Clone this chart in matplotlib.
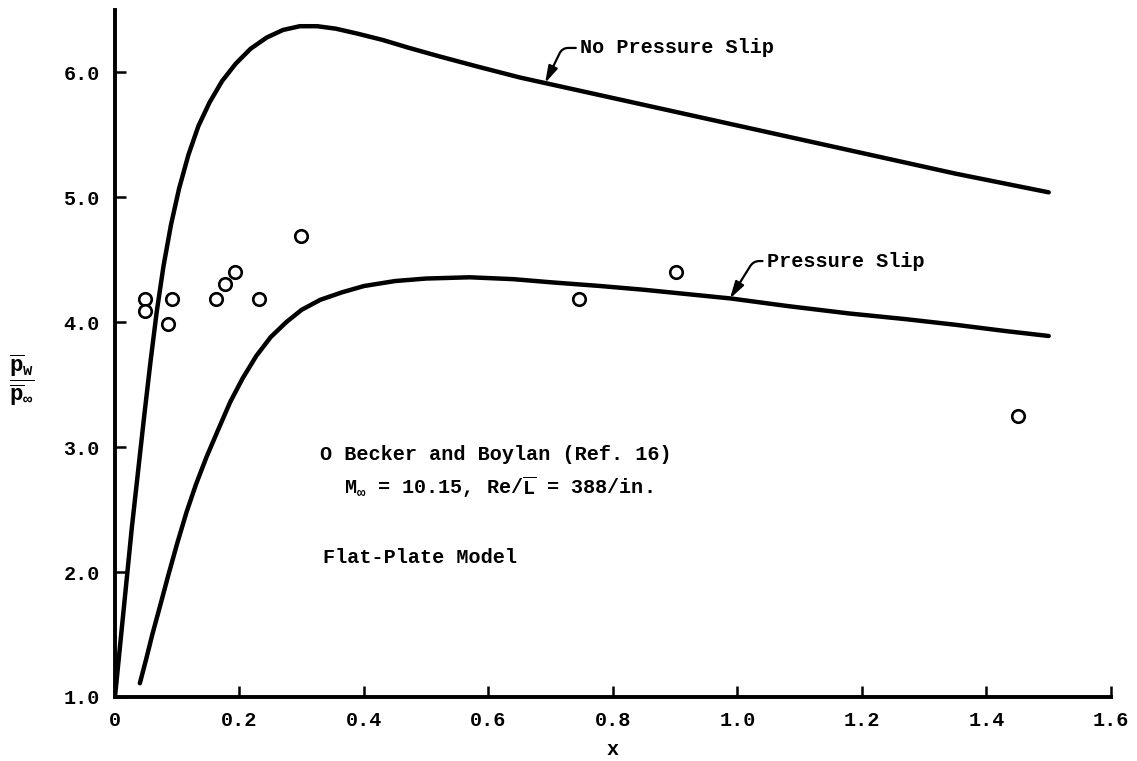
import matplotlib
matplotlib.use("Agg")
import matplotlib.pyplot as plt

plt.rcParams['font.family'] = ['Liberation Mono', 'DejaVu Sans Mono']
plt.rcParams['font.weight'] = 'bold'
plt.rcParams['mathtext.fontset'] = 'custom'
plt.rcParams['mathtext.rm'] = 'Liberation Mono:bold'
plt.rcParams['mathtext.it'] = 'Liberation Mono:bold'
plt.rcParams['mathtext.bf'] = 'Liberation Mono:bold'

# wall pressure ratio, no pressure slip at the wall
x_noslip = [0.000, 0.004, 0.010, 0.018, 0.027, 0.037, 0.047, 0.057, 0.067, 0.078,
            0.090, 0.103, 0.118, 0.134, 0.152, 0.172, 0.194, 0.218, 0.244, 0.270,
            0.297, 0.325, 0.355, 0.390, 0.430, 0.470, 0.52, 0.58, 0.65, 0.75,
            0.85, 0.95, 1.05, 1.15, 1.25, 1.35, 1.45, 1.50]
p_noslip = [1.00, 1.20, 1.50, 1.90, 2.35, 2.80, 3.25, 3.68, 4.08, 4.45,
            4.78, 5.07, 5.34, 5.57, 5.76, 5.93, 6.07, 6.19, 6.28, 6.34,
            6.37, 6.37, 6.35, 6.31, 6.26, 6.20, 6.13, 6.05, 5.96, 5.85,
            5.74, 5.63, 5.52, 5.41, 5.30, 5.19, 5.09, 5.04]

# wall pressure ratio with pressure slip
x_slip = [0.040, 0.050, 0.060, 0.072, 0.086, 0.100, 0.115, 0.130, 0.147, 0.165,
          0.185, 0.205, 0.227, 0.250, 0.275, 0.300, 0.330, 0.365, 0.40, 0.45,
          0.50, 0.57, 0.64, 0.70, 0.78, 0.85, 0.92, 0.99, 1.08, 1.18,
          1.27, 1.35, 1.43, 1.50]
p_slip = [1.11, 1.30, 1.50, 1.72, 1.98, 2.23, 2.48, 2.70, 2.92, 3.13,
          3.36, 3.55, 3.73, 3.88, 4.00, 4.10, 4.18, 4.24, 4.29, 4.33,
          4.35, 4.36, 4.345, 4.32, 4.29, 4.26, 4.225, 4.19, 4.13, 4.07,
          4.025, 3.98, 3.93, 3.89]

# Becker and Boylan measurements
x_exp = [0.048, 0.048, 0.092, 0.085, 0.162, 0.177, 0.193, 0.231, 0.299, 0.745, 0.901, 1.451]
p_exp = [4.19, 4.09, 4.19, 3.99, 4.19, 4.31, 4.40, 4.19, 4.69, 4.19, 4.40, 3.25]

x_ticks = [0.0, 0.2, 0.4, 0.6, 0.8, 1.0, 1.2, 1.4, 1.6]
x_ticklabels = ['0', '0.2', '0.4', '0.6', '0.8', '1.0', '1.2', '1.4', '1.6']
y_ticks = [1.0, 2.0, 3.0, 4.0, 5.0, 6.0]
y_ticklabels = ['1.0', '2.0', '3.0', '4.0', '5.0', '6.0']

fs = 14.5

fig = plt.figure(figsize=(11.37, 7.61), dpi=100)
ax = fig.add_axes([0.1011, 0.0841, 0.8760, 0.9028])

ax.plot(x_noslip, p_noslip, color='black', lw=3.2, solid_capstyle='round',
        solid_joinstyle='round')
ax.plot(x_slip, p_slip, color='black', lw=3.2, solid_capstyle='round',
        solid_joinstyle='round')
ax.plot(x_exp, p_exp, 'o', ms=9, mfc='white', mec='black', mew=1.9, linestyle='none')

ax.set_xlim(0, 1.6)
ax.set_ylim(1.0, 6.5)
for side in ['top', 'right']:
    ax.spines[side].set_visible(False)
for side in ['left', 'bottom']:
    ax.spines[side].set_linewidth(2.8)

ax.set_xticks(x_ticks)
ax.set_xticklabels(x_ticklabels)
ax.set_yticks(y_ticks)
ax.set_yticklabels(y_ticklabels)
ax.tick_params(axis='both', direction='in', length=8, width=1.8, labelsize=fs)
ax.tick_params(axis='x', pad=10)
ax.tick_params(axis='y', pad=11)

ax.set_xlabel('x', fontsize=fs, fontweight='bold', labelpad=7)
fig.text(0.0194, 0.500,
         r'$\dfrac{\overline{\mathrm{p}}_{\mathrm{w}}}{\overline{\mathrm{p}}_{\infty}}$',
         fontsize=16, ha='center', va='center')

arrow = dict(arrowstyle='-|>,head_length=0.7,head_width=0.2', color='black', lw=1.6,
             relpos=(0, 0.5), shrinkA=1, shrinkB=0)
ax.annotate('No Pressure Slip', xy=(0.691, 5.915), xytext=(0.747, 6.196),
            ha='left', va='center', fontsize=fs, fontweight='bold',
            arrowprops=dict(arrow, connectionstyle='angle,angleA=180,angleB=64,rad=6'))
ax.annotate('Pressure Slip', xy=(0.988, 4.19), xytext=(1.047, 4.49),
            ha='left', va='center', fontsize=fs, fontweight='bold',
            arrowprops=dict(arrow, connectionstyle='angle,angleA=180,angleB=58,rad=6'))

ax.text(0.329, 2.94, 'O Becker and Boylan (Ref. 16)', ha='left', va='center',
        fontsize=fs, fontweight='bold')
ax.text(0.368, 2.68, r'M$_{\infty}$ = 10.15, Re/$\overline{\mathrm{L}}$ = 388/in.',
        ha='left', va='center', fontsize=fs, fontweight='bold')
ax.text(0.334, 2.12, 'Flat-Plate Model', ha='left', va='center',
        fontsize=fs, fontweight='bold')

fig.savefig('out.png', dpi=100)
